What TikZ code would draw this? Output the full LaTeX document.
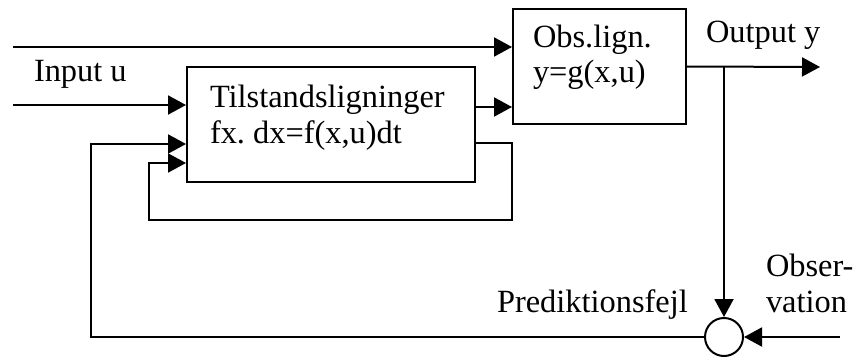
\documentclass[tikz,border=0pt]{standalone}
\usepackage{fontspec}
\setmainfont{Liberation Serif}
\usetikzlibrary{arrows.meta,positioning}
\frenchspacing

\begin{document}
\begin{tikzpicture}[x=0.5pt,y=-0.5pt,line width=1pt,
  >={Triangle[length=9pt,width=9.5pt]},
  blok/.style={draw,minimum width=#1,minimum height=57.5pt,inner sep=0pt},
  tekst/.style={font=\fontsize{16.2}{17.8}\selectfont,inner sep=0pt,anchor=base west,align=left},
  sum/.style={draw,circle,minimum size=19pt,inner sep=0pt}]
  \useasboundingbox (0,0) rectangle (860,358);

  \node[blok=144pt] (tils) at (331,124.5) {};   %tilstandsligninger
  \node[blok=86.5pt] (obs) at (599.5,66.5) {};  %observationsligning
  \node[sum] (sum) at (724,337) {};             %sammenligning

  % flerlinjede tekster placeres efter sidste linjes grundlinje
  \node[tekst] (tilstxt) at (209,143) {Tilstandsligninger\\fx. dx=f(x,u)dt};
  \node[tekst] (obstxt) at (532,83) {Obs.lign.\\y=g(x,u)};
  \node[tekst] (input) at (33,82) {Input u};
  \node[tekst] (output) at (705,43) {Output y};
  \node[tekst] (fejl) at (496,312) {Prediktionsfejl};
  \node[tekst] (obsv) at (765,312) {Obser-\\vation};

  \coordinate (ind1) at (13,47);
  \coordinate (ind2) at (13,105);
  \coordinate (tilud) at (475,107);
  \coordinate (udgang) at (820,67);
  \coordinate (gren) at (724,67);
  \coordinate (obsind) at (840,337);
  \coordinate (ydre) at (91,144);
  \coordinate (indre) at (512,143);
  \coordinate (indre1) at (512,220);
  \coordinate (indre2) at (149,163);

  \draw[->] (ind1) -- (ind1 -| obs.west);       %u direkte til obs.lign.
  \draw[->] (ind2) -- (ind2 -| tils.west);      %input u
  \draw[->] (tilud) -- (tilud -| obs.west);     %tilstand x
  \draw[->] (obs.east) -- (udgang);             %output y
  \draw[->] (gren) -- (sum.north);
  \draw[->] (obsind) -- (sum.east);             %observation

  % tilbagekobling af prediktionsfejl
  \draw[->] (sum.west) -| (ydre) -- (ydre -| tils.west);
  % intern tilbagekobling
  \draw[->] (indre -| tils.east) -- (indre) -- (indre1) -| (indre2) -- (indre2 -| tils.west);
\end{tikzpicture}
\end{document}
